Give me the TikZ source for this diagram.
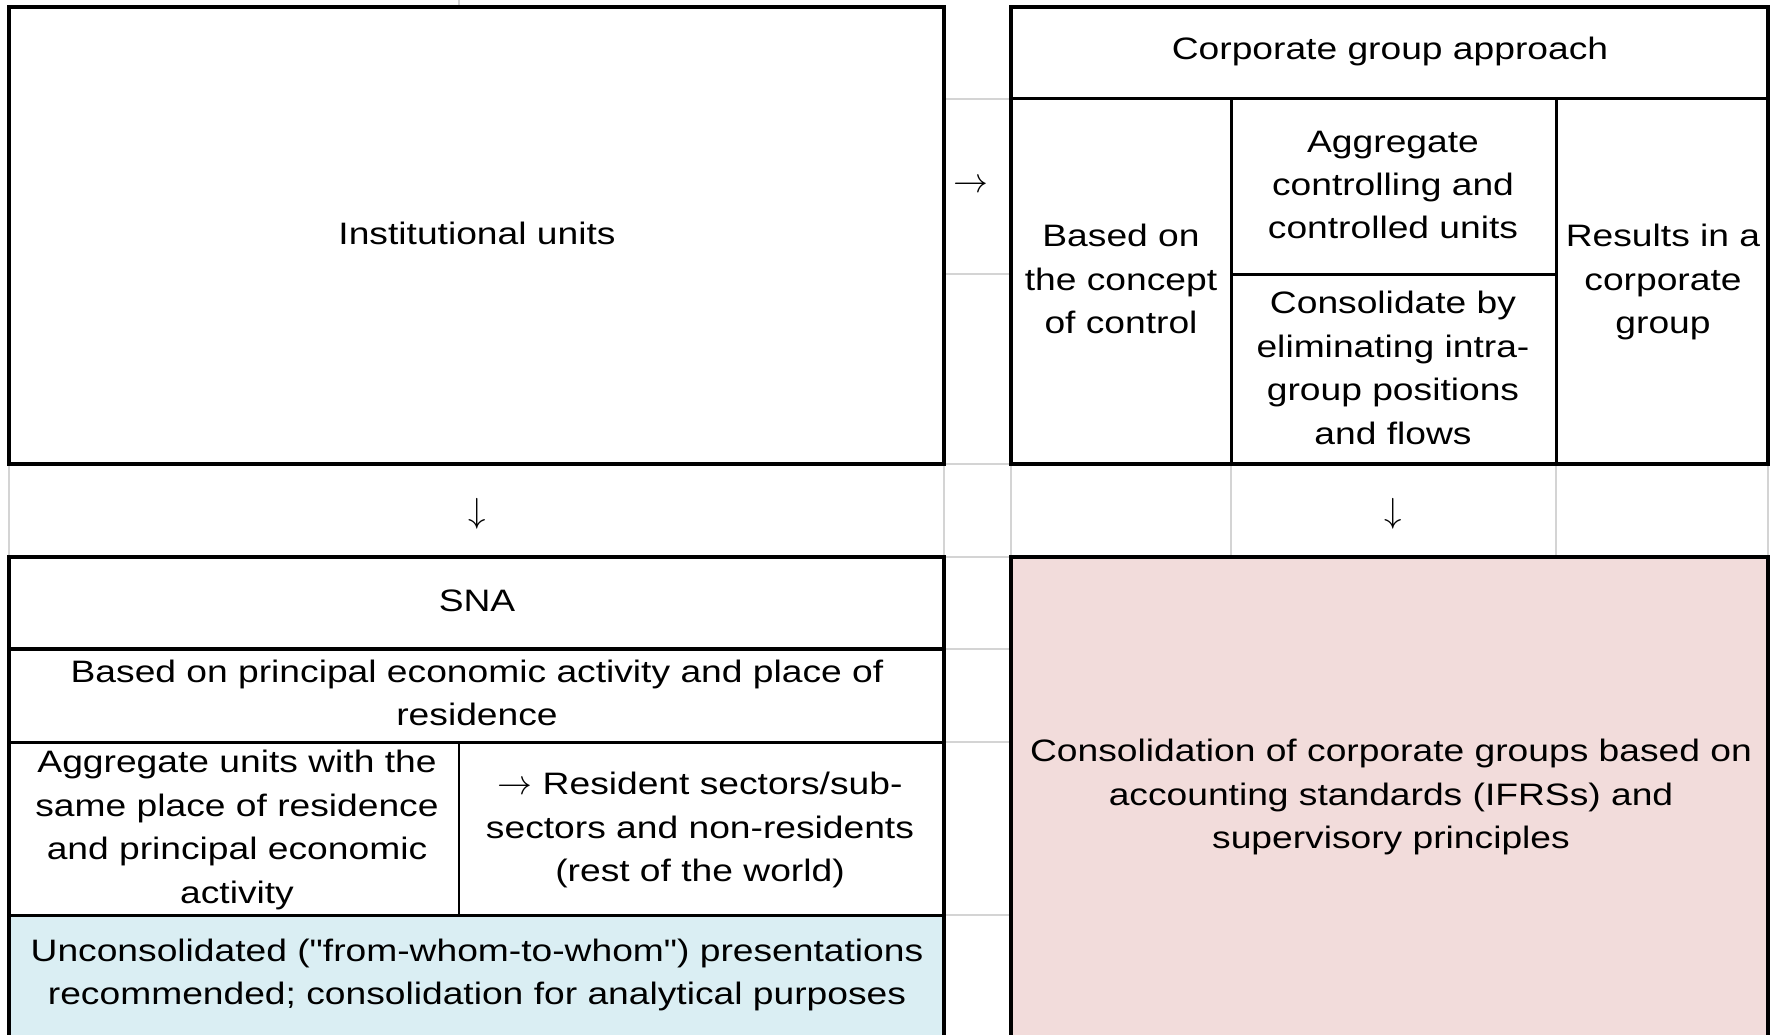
\documentclass[tikz,border=0pt]{standalone}
\usepackage{graphicx}
\usepackage{fontspec}
\setmainfont{Liberation Sans}[FakeStretch=1.2, Ligatures=TeXOff]
\definecolor{pinkfill}{RGB}{242,220,219}
\definecolor{bluefill}{RGB}{218,238,243}
\definecolor{gridgray}{RGB}{212,212,212}
\newcommand{\rarr}{\scalebox{1.4}{\fontsize{24.88}{30}\selectfont$\rightarrow$}}
\newcommand{\darr}{\scalebox{1.4}{\fontsize{24.88}{30}\selectfont$\downarrow$}}
\begin{document}
\begin{tikzpicture}[x=1pt,y=-1pt,
  every node/.style={font=\fontsize{31}{43.4}\selectfont, inner sep=0pt, align=center},
  gridline/.style={draw=gridgray, line width=2pt},
  outerline/.style={draw=black, line width=4.5pt},
  innerline/.style={draw=black, line width=3pt},
  thinline/.style={draw=black, line width=2.5pt}]
\useasboundingbox (0,0) rectangle (1771,1035);
\clip (0,0) rectangle (1771,1035);
\fill[white] (0,0) rectangle (1771,1035);
% spreadsheet grid lines
\foreach \yy in {99,274,464,557,649,742,915}
  \draw[gridline] (944,\yy) -- (1011,\yy);
\foreach \xx in {9,944,1011,1231,1556,1768}
  \draw[gridline] (\xx,464) -- (\xx,557);
\draw[gridline] (459,0) -- (459,7);
% fills
\fill[pinkfill] (1011,557) rectangle (1768,1045);
\fill[bluefill] (9,915) rectangle (944,1045);
% boxes
\draw[outerline] (9,7) rectangle (944,464);
\draw[outerline] (1011,7) rectangle (1768,464);
\draw[outerline] (9,557) rectangle (944,1045);
\draw[outerline] (1011,557) rectangle (1768,1045);
% corporate group inner lines
\draw[innerline] (1011,99) -- (1768,99);
\draw[innerline] (1231,99) -- (1231,464);
\draw[innerline] (1556,99) -- (1556,464);
\draw[innerline] (1231,274) -- (1556,274);
% SNA inner lines
\draw[outerline] (9,649) -- (944,649);
\draw[innerline] (9,742) -- (944,742);
\draw[thinline] (459,742) -- (459,915);
\draw[innerline] (9,915) -- (944,915);
% texts
\node (inst) at (477,233) {Institutional units};
\node (arrR) at (971,186) {\rarr};
\node (corp) at (1390,51) {Corporate group approach};
\node (based) at (1121,279) {Based on\\the concept\\of control};
\node (aggr) at (1393,185) {Aggregate\\controlling and\\controlled units};
\node (consol) at (1393,368) {Consolidate by\\eliminating intra-\\group positions\\and flows};
\node (results) at (1663,282) {Results in a\\corporate\\group};
\node (down1) at (477,514) {\darr};
\node (down2) at (1393,514) {\darr};
\node (sna) at (477,601) {SNA};
\node (basedp) at (477,693) {Based on principal economic activity and place of\\residence};
\node (aggunits) at (237,830) {Aggregate units with the\\same place of residence\\and principal economic\\activity};
\node (resident) at (700,830) {\rarr{} Resident sectors/sub-\\sectors and non-residents\\(rest of the world)};
\node (uncons) at (477,975) {Unconsolidated ("from-whom-to-whom") presentations\\recommended; consolidation for analytical purposes};
\node (pinktext) at (1391,797) {Consolidation of corporate groups based on\\accounting standards (IFRSs) and\\supervisory principles};
\end{tikzpicture}
\end{document}
